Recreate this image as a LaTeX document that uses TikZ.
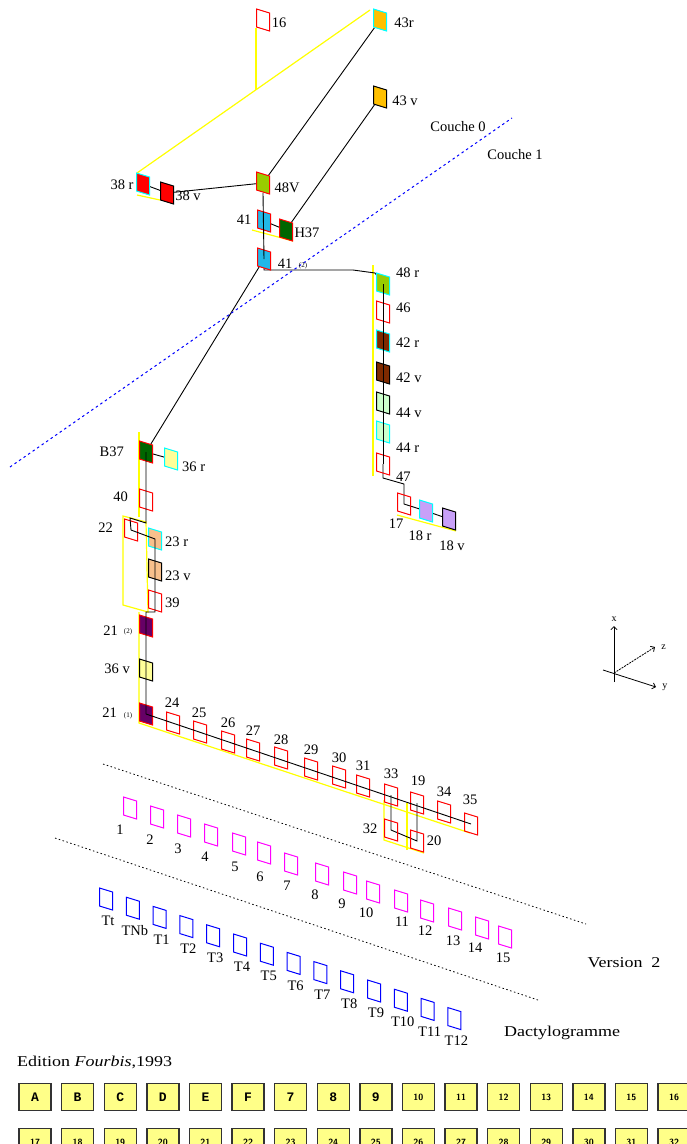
\documentclass[tikz,border=0pt]{standalone}
\usepackage{fontspec}
\setmainfont{Liberation Serif}
\setmonofont{Liberation Mono}
\newfontfamily\widefont{Liberation Serif}[FakeStretch=1.2]
\usetikzlibrary{arrows.meta,backgrounds}

\definecolor{edgecyan}{HTML}{00FFFF}
\definecolor{linkyellow}{HTML}{FFFF00}
\definecolor{cardorange}{HTML}{FFC000}
\definecolor{cardolive}{HTML}{99CC00}
\definecolor{cardcyan}{HTML}{22B8E8}
\definecolor{carddkgreen}{HTML}{006600}
\definecolor{cardbrown}{HTML}{7F2A00}
\definecolor{cardmint}{HTML}{CCFFCC}
\definecolor{cardlilac}{HTML}{C8A0F8}
\definecolor{cardcream}{HTML}{FFFF99}
\definecolor{cardpeach}{HTML}{F8C08C}
\definecolor{cardplum}{HTML}{660066}
\definecolor{cardpink}{HTML}{FF00FF}
\definecolor{keyfill}{HTML}{FFFF88}

\tikzset{
  lbl/.style={font=\fontsize{14.5}{16}\selectfont, inner sep=0pt},
  caption/.style={font=\widefont\fontsize{15}{17}\selectfont, inner sep=0pt},
  tag/.style={font=\fontsize{7}{8}\selectfont, inner sep=0pt},
  axislbl/.style={font=\fontsize{10}{12}\selectfont, inner sep=0pt},
  link/.style={draw=black, line width=0.9pt},
  group/.style={draw=linkyellow, line width=1.2pt},
  layerline/.style={draw=black, line width=0.8pt, dash pattern=on 1.5pt off 2.5pt},
  pics/card/.style 2 args={code={\draw[draw=#1, fill=#2, line width=1pt] (-6.5,-11) -- (6.5,-7) -- (6.5,11) -- (-6.5,7) -- cycle;}},
  key/.style={draw=black!80, line width=1.4pt, fill=keyfill, minimum width=32pt, minimum height=27pt, inner sep=0pt, font=\ttfamily\bfseries\fontsize{13}{14}\selectfont},
  keynum/.style={key, font=\sffamily\bfseries\fontsize{9}{10}\selectfont},
}

\begin{document}
\begin{tikzpicture}[x=1pt,y=-1pt,>=Straight Barb]
\useasboundingbox (0,0) rectangle (687,1144);
\clip (0,0) rectangle (687,1144);

% couche 0
\foreach \n/\x/\y/\e/\f in {16/263/20/red/none, 43r/380/20/edgecyan/cardorange, 43v/380/97/black/cardorange, 38r/143/184/edgecyan/red, 38v/167/193/black/red, 48v/263/183/red/cardolive, 41/264/221/red/cardcyan, H37/286/230/red/carddkgreen, 41b/264/259/red/cardcyan}
  {\coordinate (c\n) at (\x,\y); \pic at (c\n) {card={\e}{\f}};}
\node[lbl] (l16) at (279,23) {16};
\node[lbl] (l43r) at (404,23) {43r};
\node[lbl] (l43v) at (405,101) {43 v};
\node[lbl] (l38r) at (122,185) {38 r};
\node[lbl] (l38v) at (188,196) {38 v};
\node[lbl] (l48v) at (287,188) {48V};
\node[lbl] (l41) at (244,220) {41};
\node[lbl] (lH37) at (307,233) {H37};
\node[lbl] (l41b) at (285,264) {41};
\node[tag] (t41b) at (303,266) {(2)};
\node[lbl] (couche0) at (458,127) {Couche 0};
\node[lbl] (couche1) at (515,155) {Couche 1};

% colonne de droite
\foreach \n/\y/\e/\f/\t/\ty in {48r/284/edgecyan/cardolive/48 r/273, 46/312/red/none/46/308, 42r/341/edgecyan/cardbrown/42 r/343, 42v/373/black/cardbrown/42 v/378, 44v/403/black/cardmint/44 v/413, 44r/432/edgecyan/cardmint/44 r/448, 47/464/red/none/47/477}
  {\coordinate (c\n) at (383,\y); \pic at (c\n) {card={\e}{\f}}; \node[lbl, anchor=west] (l\n) at (396,\ty) {\t};}
\foreach \n/\x/\y/\e/\f/\t/\tx/\ty in {17/404/504/red/none/17/396/524, 18r/426/511/edgecyan/cardlilac/18 r/420/536, 18v/449/519/black/cardlilac/18 v/452/546}
  {\coordinate (c\n) at (\x,\y); \pic at (c\n) {card={\e}{\f}}; \node[lbl] (l\n) at (\tx,\ty) {\t};}

% colonne de gauche
\foreach \n/\x/\y/\e/\f in {B37/146/452/red/carddkgreen, 36r/171/459/edgecyan/cardcream, 40/146/500/red/none, 22/131/530/red/none, 23r/155/539/edgecyan/cardpeach, 23v/155/570/black/cardpeach, 39/155/601/red/none, 21b/146/626/red/cardplum, 36v/146/670/black/cardcream, 21a/146/714/red/cardplum}
  {\coordinate (c\n) at (\x,\y); \pic at (c\n) {card={\e}{\f}};}
\node[lbl, anchor=east] (lB37) at (124,452) {B37};
\node[lbl, anchor=west] (l36r) at (182,467) {36 r};
\node[lbl, anchor=east] (l40) at (128,497) {40};
\node[lbl, anchor=east] (l22) at (113,528) {22};
\node[lbl, anchor=west] (l23r) at (165,542) {23 r};
\node[lbl, anchor=west] (l23v) at (165,576) {23 v};
\node[lbl, anchor=west] (l39) at (165,603) {39};
\node[lbl, anchor=east] (l21b) at (118,631) {21};
\node[tag] (t21b) at (128,632) {(2)};
\node[lbl, anchor=east] (l36v) at (130,669) {36 v};
\node[lbl, anchor=east] (l21a) at (117,713) {21};
\node[tag] (t21a) at (128,716) {(1)};

% rangee oblique
\foreach \n/\x/\y/\lx/\ly in {24/173/723/172/703, 25/200/732/199/713, 26/228/742/228/723, 27/253/750/253/731, 28/281/758/281/740, 29/311/769/311/750, 30/339/777/339/758, 31/363/786/363/766, 33/391/795/391/774, 19/417/803/418/781, 34/444/812/444/792, 35/471/824/470/800, 32/391/830/370/829, 20/417/841/434/841}
  {\coordinate (c\n) at (\x,\y); \pic at (c\n) {card={red}{none}}; \node[lbl] (l\n) at (\lx,\ly) {\n};}

% version 2
\foreach \n/\x/\y/\lx/\ly in {1/130/808/120/830, 2/157/817/150/840, 3/184/826/178/849, 4/211/835/205/857, 5/239/844/235/867, 6/264/853/260/877, 7/291/864/287/886, 8/322/874/315/895, 9/350/883/342/904, 10/373/892/366/913, 11/401/901/402/922, 12/427/911/425/931, 13/455/919/453/941, 14/482/928/475/948, 15/505/937/503/958}
  {\coordinate (p\n) at (\x,\y); \pic at (p\n) {card={cardpink}{none}}; \node[lbl] (lp\n) at (\lx,\ly) {\n};}
\node[caption] (version) at (624,963) {Version\ \ 2};

% dactylogramme
\foreach \t [count=\i from 0] in {Tt,TNb,T1,T2,T3,T4,T5,T6,T7,T8,T9,T10,T11,T12}
  {\coordinate (d\t) at (106+26.8*\i,899+9.2*\i); \pic at (d\t) {card={blue}{none}}; \node[lbl] (ld\t) at (108+26.8*\i,921+9.2*\i) {\t};}
\node[caption] (dactylo) at (562,1033) {Dactylogramme};

% liens
\draw[link] (c48v) ++(0,10) -- (c41b);
\draw[link] (c48r) -- (c47);
\draw[link] (cB37) -- (146,523) coordinate (k40) -- (130,518) coordinate (k22) -- (c22) -- (c23r) -- (c23v) -- (c39) |- (146,612) coordinate (k39) -- (c21a);
\draw[link] (c21a) -- (c35);
\coordinate (k41) at (353,270);
\coordinate (k47) at (404,484);
\begin{scope}[on background layer]
  % groupes
  \draw[group] (256,28) -- (256,90);
  \draw[group] (370,10) -- (137,173);
  \draw[group] (137,195) -- (160,200);
  \draw[group] (252,230) -- (293,241);
  \draw[group] (373,265) -- (373,476);
  \draw[group] (397,515) -- (456,531);
  \draw[group] (139,432) -- (139,517);
  \draw[group] (123,516) -- (146,522) -- (148,612) -- (123,605) -- cycle;
  \draw[group] (139,612) -- (139,723) -- (470,833);
  \draw[group] (384,800) -- (384,840) -- (424,853);
  \draw[group] (407,803) -- (407,850);
  % liens
  \draw[link] (c43r) -- (c48v);
  \draw[link] (c43v) -- (cH37);
  \draw[link] (c38r) -- (c38v) -- (c48v);
  \draw[link] (c41) -- (cH37);
  \draw[link] (c41b) |- (k41) -- ++(22,3) -- (c48r);
  \draw[link] (c41b) -- (cB37);
  \draw[link] (c47) -- ++(0,14) -- (k47) -- (c17) -- (c18r) -- (c18v);
  \draw[link] (cB37) -- (c36r);
  \draw[link] (c33) -- (c32) -- (c20) -- (c19);
  % couches
  \draw[blue, line width=1pt, dash pattern=on 2.5pt off 3pt] (10,467) -- (512,118);
  \draw[layerline] (103,764) -- (586,924);
  \draw[layerline] (55,838) -- (538,1000);
\end{scope}

% axes
\coordinate (o) at (614,673);
\coordinate (ox) at (614,682);
\coordinate (oy) at (603,670);
\coordinate (ax) at (614,626);
\coordinate (az) at (655,647);
\coordinate (ay) at (656,687);
\draw[->, line width=0.8pt] (ox) -- (ax) node[axislbl, above=4pt] (lx) {x};
\draw[->, line width=0.8pt, dash pattern=on 2pt off 1pt] (o) -- (az) node[axislbl, right=6pt] (lz) {z};
\draw[->, line width=0.8pt] (oy) -- (ay) node[axislbl, right=6pt] (ly) {y};

% edition Fourbis
\node[caption, anchor=west] (edition) at (17,1062) {Edition \textit{Fourbis},1993};
\foreach \t [count=\i from 0] in {A,B,C,D,E,F,7,8,9}
  \node[key] (k\i) at (35+42.6*\i,1097) {\t};
\foreach \t [count=\i from 9] in {10,...,16}
  \node[keynum] (k\i) at (35+42.6*\i,1097) {\t};
\foreach \t [count=\i from 0] in {17,...,32}
  \node[keynum] (m\i) at (35+42.6*\i,1142) {\t};
\end{tikzpicture}
\end{document}
